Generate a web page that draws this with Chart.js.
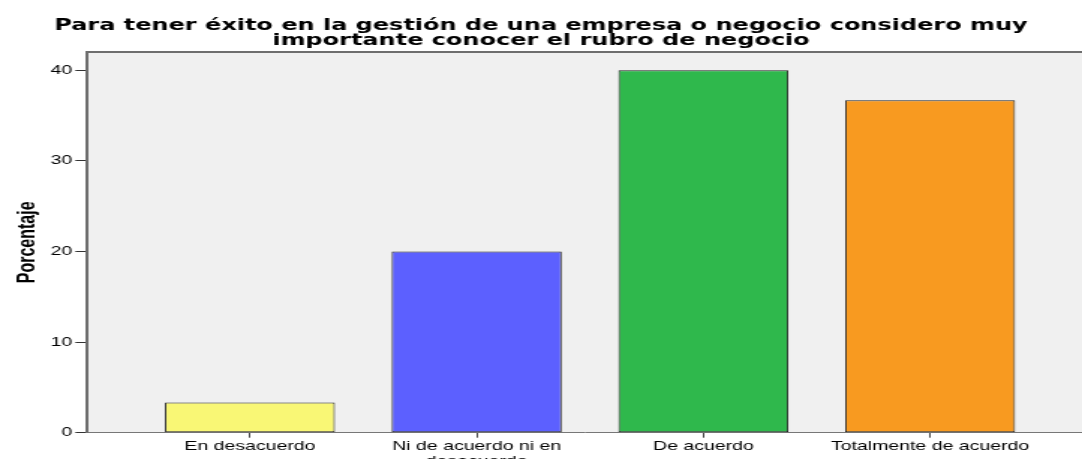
<!DOCTYPE html>
<html lang="es">
<head>
<meta charset="utf-8">
<title>Rubro de negocio</title>
<script src="https://cdn.jsdelivr.net/npm/chart.js@4.4.1/dist/chart.umd.min.js"></script>
<style>
  html, body { margin: 0; padding: 0; background: #fff; overflow: hidden; }
  /* el gráfico original está estirado en horizontal: se dibuja a 722px y se escala */
  #wrap { width: 722px; height: 459px; transform: scaleX(1.4986); transform-origin: 0 0; }
</style>
</head>
<body>
<div id="wrap"><canvas id="grafico" width="722" height="459"></canvas></div>
<script>
// Datos
const categorias = ["En desacuerdo", ["Ni de acuerdo ni en", "desacuerdo"], "De acuerdo", "Totalmente de acuerdo"];
const porcentajes = [3.33, 20, 40, 36.67];
const colores = ["#f9f775", "#5c60ff", "#2fb84c", "#f89a20"];
const ticksY = [0, 10, 20, 30, 40];
const titulo = [
  "Para tener éxito en la gestión de una empresa o negocio considero muy",
  "importante conocer el rubro de negocio",
];

// fondo gris del área de trazado y línea superior del marco
const fondoPlot = {
  id: "fondoPlot",
  beforeDraw(chart) {
    const { ctx, chartArea: a } = chart;
    ctx.save();
    ctx.fillStyle = "#f0f0f0";
    ctx.fillRect(a.left, a.top, a.right - a.left, a.bottom - a.top);
    ctx.strokeStyle = "#6e6e6e";
    ctx.lineWidth = 2;
    ctx.beginPath();
    ctx.moveTo(a.left, a.top);
    ctx.lineTo(a.right, a.top);
    ctx.stroke();
    ctx.restore();
  },
};

new Chart(document.getElementById("grafico"), {
  type: "bar",
  data: {
    datasets: [{
      data: porcentajes.map((v, i) => ({ x: i, y: v })),
      backgroundColor: colores,
      borderColor: "#222",
      borderWidth: 1,
      borderSkipped: false,
      categoryPercentage: 1,
      barPercentage: 0.75,
    }],
  },
  options: {
    responsive: false,
    animation: false,
    layout: { padding: 0 },
    plugins: {
      legend: { display: false },
      tooltip: { enabled: false },
      title: {
        display: true,
        text: titulo,
        color: "#000",
        font: { family: "'DejaVu Sans', 'Liberation Sans', sans-serif", size: 16, weight: "bold", lineHeight: 0.9 },
        padding: { top: 18.8, bottom: 4.4 },
      },
    },
    scales: {
      x: {
        type: "linear",
        min: -0.717,
        max: 3.67,
        offset: false,
        afterBuildTicks: (s) => { s.ticks = categorias.map((_, i) => ({ value: i })); },
        afterFit: (s) => { s.height = 26.3; },
        ticks: {
          autoSkip: false,
          maxRotation: 0,
          minRotation: 0,
          padding: 2,
          color: "#000",
          font: { family: "'Liberation Sans', Arial, sans-serif", size: 13, lineHeight: 1.1 },
          callback: (v) => categorias[v],
        },
        grid: { offset: false, drawOnChartArea: false, tickLength: 5, color: "#444" },
        border: { color: "#777", width: 1 },
      },
      y: {
        min: 0,
        max: 42,
        afterBuildTicks: (s) => { s.ticks = ticksY.map((v) => ({ value: v })); },
        afterFit: (s) => { s.width = 58.3; },
        ticks: {
          padding: 2,
          color: "#000",
          font: { family: "'Liberation Sans', Arial, sans-serif", size: 13 },
        },
        grid: { drawOnChartArea: false, tickLength: 8, color: "#333" },
        border: { color: "#6e6e6e", width: 2 },
        title: {
          display: true,
          text: "Porcentaje",
          color: "#000",
          font: { family: "'Liberation Sans Narrow', 'Liberation Sans', Arial, sans-serif", size: 16, weight: "bold", lineHeight: 1 },
          padding: { top: 11 },
        },
      },
    },
  },
  plugins: [fondoPlot],
});
</script>
</body>
</html>
